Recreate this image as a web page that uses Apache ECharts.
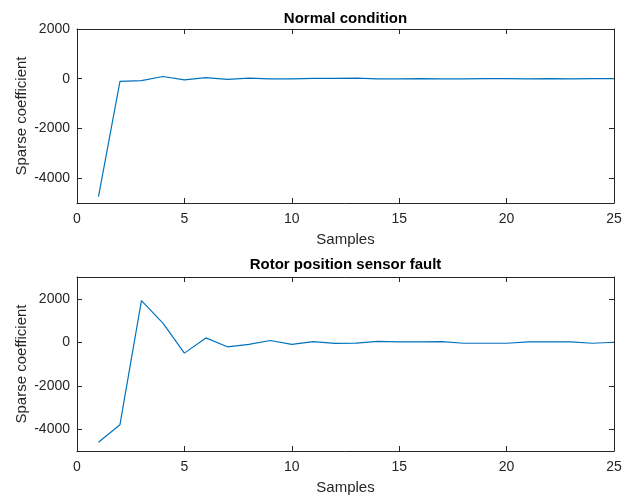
<!DOCTYPE html>
<html>
<head>
<meta charset="utf-8">
<script src="https://cdn.jsdelivr.net/npm/echarts@6/dist/echarts.min.js"></script>
<style>
  html, body { margin: 0; padding: 0; background: #fff; }
  #chart { width: 641px; height: 498px; }
</style>
</head>
<body>
<div id="chart"></div>
<script>
  // values
  var samples = [1, 2, 3, 4, 5, 6, 7, 8, 9, 10, 11, 12, 13, 14, 15, 16, 17, 18, 19, 20, 21, 22, 23, 24, 25];
  var normalCoef = [-4740, -110, -80, 90, -50, 40, -30, 20, -10, -10, 10, 10, 20, -10, -10, 5, -10, -5, 0, 0, -10, 5, -10, 0, 5];
  var faultCoef = [-4600, -3790, 1910, 880, -500, 200, -210, -100, 80, -100, 30, -50, -40, 40, 15, 15, 30, -45, -45, -45, 15, 15, 15, -45, 0];
  var titles = ['Normal condition', 'Rotor position sensor fault'];
  var yLimits = [[-5000, 2000], [-5000, 3000]];
  var ySplits = [3, 5]; // both give a 2000 step

  var lineColor = '#0072BD';
  var axisColor = '#262626';
  var font = '"Liberation Sans", Arial, Helvetica, sans-serif';

  var chart = echarts.init(document.getElementById('chart'));

  function pairs(ys) {
    return samples.map(function (x, i) { return [x, ys[i]]; });
  }

  var grids = [
    { left: 77, right: 27, top: 29, height: 174 },
    { left: 77, right: 27, top: 277, height: 174 }
  ];

  var xAxes = [], yAxes = [], series = [], titleList = [];
  [normalCoef, faultCoef].forEach(function (ys, g) {
    // bottom axis with labels
    xAxes.push({
      type: 'value', gridIndex: g, min: 0, max: 25, interval: 5, position: 'bottom',
      name: 'Samples', nameLocation: 'middle', nameGap: 29,
      nameTextStyle: { fontFamily: font, fontSize: 15, color: axisColor },
      axisLine: { onZero: false, lineStyle: { color: axisColor, width: 1 } },
      axisTick: { inside: true, length: 5, lineStyle: { color: axisColor } },
      axisLabel: { fontFamily: font, fontSize: 14, color: axisColor, margin: 9 },
      splitLine: { show: false }
    });
    // top edge of the box
    xAxes.push({
      type: 'value', gridIndex: g, min: 0, max: 25, interval: 5, position: 'top',
      axisLine: { onZero: false, lineStyle: { color: axisColor, width: 1 } },
      axisTick: { inside: true, length: 5, lineStyle: { color: axisColor } },
      axisLabel: { show: false },
      splitLine: { show: false }
    });
    yAxes.push({
      type: 'value', gridIndex: g, min: yLimits[g][0], max: yLimits[g][1], position: 'left',
      splitNumber: ySplits[g],
      name: 'Sparse coefficient', nameLocation: 'middle', nameGap: 48, nameMoveOverlap: false,
      nameTextStyle: { fontFamily: font, fontSize: 15, color: axisColor },
      axisLine: { onZero: false, lineStyle: { color: axisColor, width: 1 } },
      axisTick: { inside: true, length: 5, lineStyle: { color: axisColor } },
      axisLabel: {
        fontFamily: font, fontSize: 14, color: axisColor, margin: 7,
        showMinLabel: false, showMaxLabel: g === 0,
        formatter: function (v) { return String(v); }
      },
      splitLine: { show: false }
    });
    yAxes.push({
      type: 'value', gridIndex: g, min: yLimits[g][0], max: yLimits[g][1], position: 'right',
      splitNumber: ySplits[g],
      axisLine: { show: true, onZero: false, lineStyle: { color: axisColor, width: 1 } },
      axisTick: { show: true, inside: true, length: 5, lineStyle: { color: axisColor } },
      axisLabel: { show: false },
      splitLine: { show: false }
    });
    series.push({
      type: 'line', xAxisIndex: g * 2, yAxisIndex: g * 2,
      data: pairs(ys), showSymbol: false, symbol: 'none',
      lineStyle: { color: lineColor, width: 1.2 },
      animation: false
    });
    titleList.push({
      text: titles[g], left: 345.5, top: g === 0 ? 11 : 257, textAlign: 'center', padding: 0,
      textStyle: { fontFamily: font, fontSize: 15, fontWeight: 'bold', color: '#000' }
    });
  });

  chart.setOption({
    animation: false,
    backgroundColor: '#fff',
    title: titleList,
    grid: grids,
    xAxis: xAxes,
    yAxis: yAxes,
    series: series
  });
</script>
</body>
</html>
